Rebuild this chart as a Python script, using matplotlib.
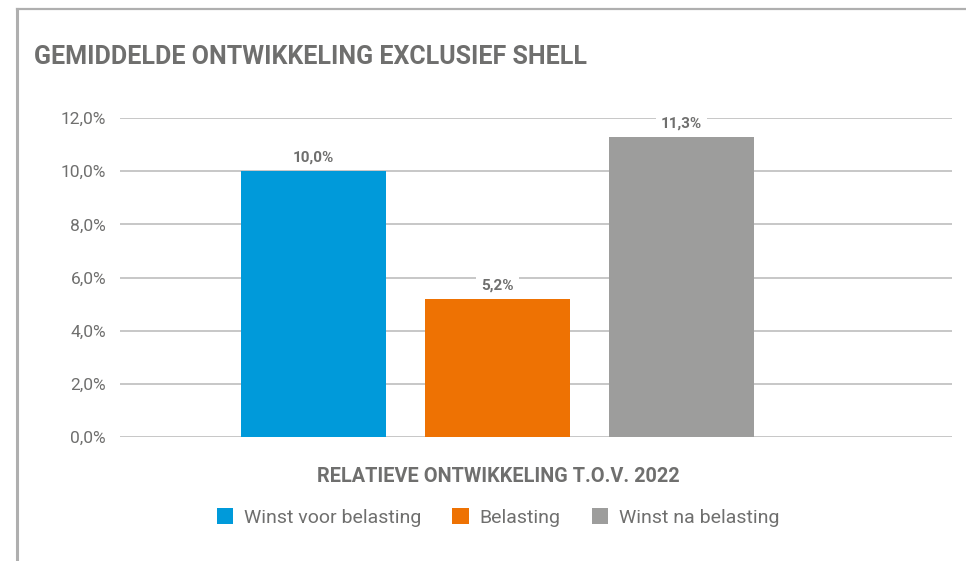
import matplotlib
matplotlib.use("Agg")
import matplotlib.pyplot as plt
from matplotlib.patches import Patch
from matplotlib.lines import Line2D

# ---- data ----
title = "GEMIDDELDE ONTWIKKELING EXCLUSIEF SHELL"
xlabel = "RELATIEVE ONTWIKKELING T.O.V. 2022"
series = ["Winst voor belasting", "Belasting", "Winst na belasting"]
values = [10.0, 5.2, 11.3]
labels = ["10,0%", "5,2%", "11,3%"]
yticks = [0, 2, 4, 6, 8, 10, 12]
ytick_labels = ["0,0%", "2,0%", "4,0%", "6,0%", "8,0%", "10,0%", "12,0%"]
colors = ["#009ADA", "#EE7203", "#9D9D9C"]

TXT = "#6F6F6E"
GRID = "#BDBDBD"
plt.rcParams["font.family"] = ["Roboto", "DejaVu Sans"]

W, H = 966, 561
fig = plt.figure(figsize=(W / 100, H / 100), dpi=100)
fig.patch.set_facecolor("white")

# outer border (left + top)
fig.add_artist(Line2D([17 / W, 17 / W], [0, 1 - 8.5 / H], color="#AFAFAF", lw=2.2, transform=fig.transFigure))
fig.add_artist(Line2D([17 / W, 1], [1 - 8.5 / H, 1 - 8.5 / H], color="#AFAFAF", lw=1.6, transform=fig.transFigure))

ax = fig.add_axes([120 / W, 1 - 437 / H, (952 - 120) / W, (437 - 118) / H])
x = [0, 1, 2]
ax.bar(x, values, width=0.79, color=colors, zorder=3)
ax.set_ylim(0, 12)
ax.set_xlim(-1.052, 3.47)
ax.set_yticks(yticks)
ax.set_yticklabels(ytick_labels, color=TXT, fontsize=12.5)
ax.set_xticks([])
ax.tick_params(axis="y", length=0, pad=10)
for s in ax.spines.values():
    s.set_visible(False)
ax.yaxis.grid(True, color=GRID, lw=1.2, zorder=0)
ax.set_axisbelow(True)

for xi, v, lab in zip(x, values, labels):
    ax.annotate(lab, (xi, v), xytext=(0, 4.5), textcoords="offset points",
                ha="center", va="bottom", fontsize=11, fontweight="bold", color=TXT,
                bbox=dict(boxstyle="square,pad=0.35", fc="white", ec="none"), zorder=4)

fig.text(34 / W, 1 - 57 / H, title, fontsize=18, fontweight="bold", color=TXT, va="center", ha="left")

fig.text(498 / W, 1 - 477 / H, xlabel, fontsize=14.3, fontweight="bold", color=TXT, va="center", ha="center")

handles = [Patch(facecolor=c, edgecolor="none") for c in colors]
leg = fig.legend(handles, series, loc="center", bbox_to_anchor=(498 / W, 1 - 517.5 / H),
                 ncol=3, frameon=False, fontsize=14, handlelength=0.85, handleheight=0.85,
                 handletextpad=0.55, columnspacing=1.6)
for t in leg.get_texts():
    t.set_color(TXT)

fig.savefig("out.png", dpi=100, facecolor="white")
